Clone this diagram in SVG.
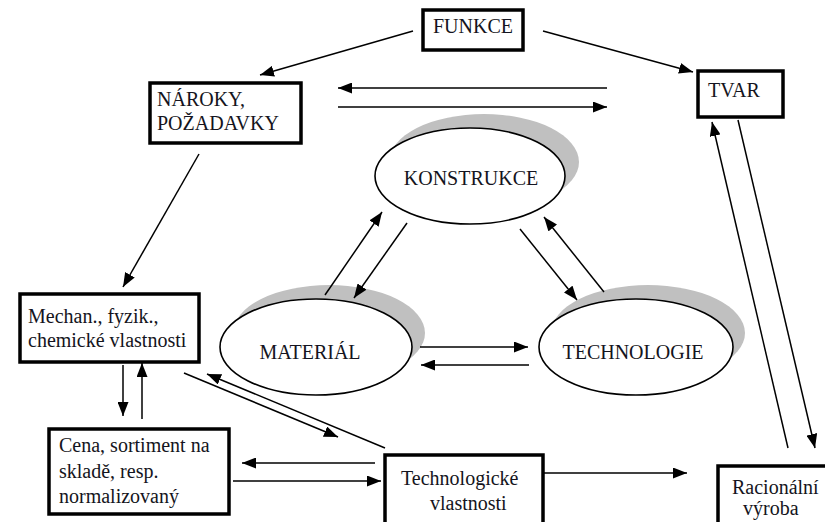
<svg xmlns="http://www.w3.org/2000/svg" width="825" height="522" viewBox="0 0 825 522">
  <defs>
    <marker id="head" markerUnits="userSpaceOnUse" markerWidth="14" markerHeight="11" refX="14" refY="5.5" orient="auto">
      <path d="M0,0 L14,5.5 L0,11 z" fill="#000"/>
    </marker>
    <style>
      .box { fill: #fff; stroke: #000; stroke-width: 3.5; }
      .oval { fill: #fff; stroke: #000; stroke-width: 1.6; }
      .shade { fill: #c0c0c0; }
      .lbl { font-family: 'Liberation Serif', 'Times New Roman', serif; font-size: 20px; fill: #141420; }
      .mid { text-anchor: middle; }
      .conn line { stroke: #000; stroke-width: 1.5; fill: none; }
      .conn line.a { marker-end: url(#head); }
    </style>
  </defs>
  <rect width="825" height="522" fill="#fff"/>

  <!-- rectangular nodes -->
  <g id="funkce">
    <rect class="box" x="423" y="10" width="100" height="40"/>
    <text class="lbl" x="433" y="33">FUNKCE</text>
  </g>
  <g id="tvar">
    <rect class="box" x="698" y="71" width="85" height="46"/>
    <text class="lbl" x="708" y="97">TVAR</text>
  </g>
  <g id="naroky">
    <rect class="box" x="150" y="83" width="151" height="60"/>
    <text class="lbl" x="157" y="106">NÁROKY,</text>
    <text class="lbl" x="157" y="130">POŽADAVKY</text>
  </g>
  <g id="vlastnosti">
    <rect class="box" x="20" y="294" width="179" height="68"/>
    <text class="lbl" x="28" y="323">Mechan., fyzik.,</text>
    <text class="lbl" x="28" y="347">chemické vlastnosti</text>
  </g>
  <g id="cena">
    <rect class="box" x="49" y="429" width="180" height="85"/>
    <text class="lbl" x="59" y="452">Cena, sortiment na</text>
    <text class="lbl" x="59" y="478">skladě, resp.</text>
    <text class="lbl" x="59" y="503">normalizovaný</text>
  </g>
  <g id="technologicke">
    <rect class="box" x="385" y="455" width="158" height="80"/>
    <text class="lbl" x="401" y="485">Technologické</text>
    <text class="lbl" x="430" y="510">vlastnosti</text>
  </g>
  <g id="racionalni">
    <rect class="box" x="718" y="466" width="120" height="70"/>
    <text class="lbl" x="732" y="494">Racionální</text>
    <text class="lbl" x="743" y="515">výroba</text>
  </g>

  <!-- oval nodes with offset shadow -->
  <g id="konstrukce">
    <ellipse class="shade" cx="484" cy="162" rx="95" ry="48"/>
    <ellipse class="oval" cx="470" cy="176" rx="95" ry="48"/>
    <text class="lbl mid" x="471" y="185">KONSTRUKCE</text>
  </g>
  <g id="material">
    <ellipse class="shade" cx="329" cy="333" rx="96" ry="48"/>
    <ellipse class="oval" cx="316" cy="347" rx="96" ry="48"/>
    <text class="lbl mid" x="310" y="359">MATERIÁL</text>
  </g>
  <g id="technologie">
    <ellipse class="shade" cx="648" cy="333" rx="97" ry="48"/>
    <ellipse class="oval" cx="636" cy="347" rx="97" ry="48"/>
    <text class="lbl mid" x="633" y="359">TECHNOLOGIE</text>
  </g>

  <!-- connectors -->
  <g id="connectors" class="conn">
    <line class="a" x1="413" y1="31" x2="260" y2="75"/>
    <line class="a" x1="543" y1="31" x2="693" y2="72"/>
    <line class="a" x1="607" y1="88" x2="338" y2="88"/>
    <line class="a" x1="338" y1="107" x2="607" y2="107"/>
    <line class="a" x1="199" y1="154" x2="123" y2="287"/>
    <line class="a" x1="325" y1="295" x2="382" y2="212"/>
    <line class="a" x1="407" y1="223" x2="354" y2="298"/>
    <line class="a" x1="520" y1="229" x2="577" y2="300"/>
    <line class="a" x1="604" y1="292" x2="544" y2="217"/>
    <line class="a" x1="420" y1="347" x2="528" y2="347"/>
    <line class="a" x1="529" y1="365" x2="421" y2="365"/>
    <line class="a" x1="123" y1="365" x2="123" y2="416"/>
    <line class="a" x1="142" y1="419" x2="142" y2="363"/>
    <line class="a" x1="184" y1="373" x2="338" y2="437"/>
    <line class="a" x1="385" y1="448" x2="207" y2="374"/>
    <line class="a" x1="375" y1="463" x2="242" y2="463"/>
    <line class="a" x1="233" y1="481" x2="381" y2="481"/>
    <line class="a" x1="543" y1="473" x2="687" y2="473"/>
    <line class="a" x1="738" y1="120" x2="815" y2="448"/>
    <line class="a" x1="788" y1="448" x2="712" y2="122"/>
  </g>
</svg>
